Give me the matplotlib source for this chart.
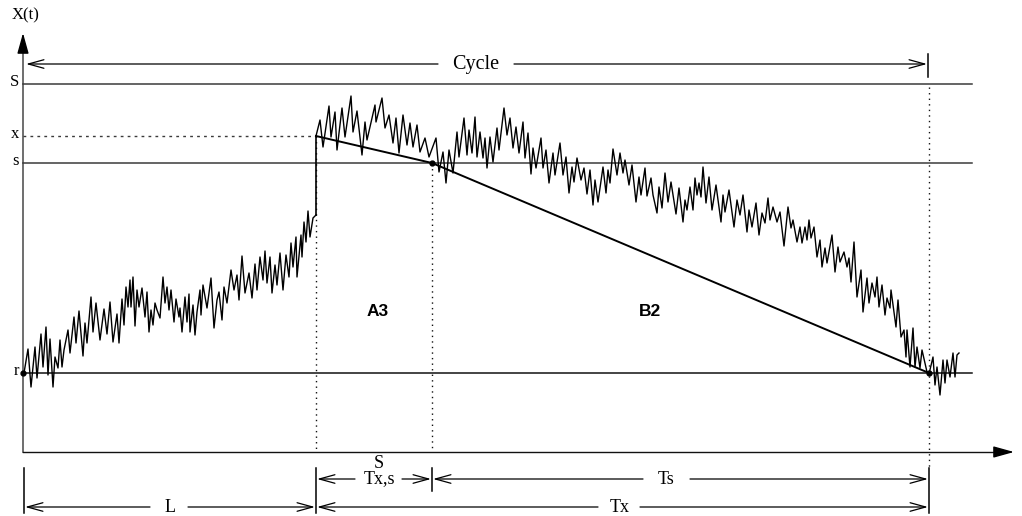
import matplotlib
matplotlib.use("Agg")
import matplotlib.pyplot as plt

plt.rcParams['font.family'] = ['Liberation Serif', 'DejaVu Serif']

# ---- levels (vertical positions, drawing units; larger = lower) ----
level_names = ["S", "x", "s", "r"]
level_S = 84
level_x = 136
level_s = 163
level_r = 373

# ---- key times ----
t_start = 23
t_L = 316          # end of L / jump time
t_s = 432          # time the threshold s is reached
t_cycle = 929      # end of cycle
t_end_lines = 972

# ---- noisy trajectory X(t), rising part ----
rise_t = [24, 28, 31, 35, 37, 41, 43, 46, 48, 50, 53, 55, 58, 60, 62, 64, 68, 70, 74, 76,
          79, 83, 85, 87, 91, 93, 96, 100, 104, 107, 110, 113, 117, 119, 122, 124, 126, 128, 130, 131,
          133, 135, 137, 139, 142, 145, 147, 149, 151, 153, 155, 157, 160, 163, 165, 167, 169, 171, 174, 176,
          179, 180, 182, 185, 187, 189, 190, 193, 195, 197, 200, 201, 203, 207, 211, 214, 217, 219, 222, 224,
          227, 231, 234, 237, 239, 242, 245, 249, 252, 255, 257, 260, 263, 265, 267, 270, 272, 275, 277, 280,
          283, 286, 289, 291, 293, 296, 297, 301, 302, 304, 306, 308, 310, 313, 316]
rise_x = [373, 349, 387, 347, 378, 334, 367, 327, 375, 339, 387, 357, 368, 340, 367, 350, 330, 353, 317, 343,
          311, 356, 323, 343, 297, 332, 303, 340, 309, 334, 302, 342, 314, 343, 299, 325, 287, 307, 280, 307,
          277, 326, 290, 307, 288, 317, 292, 332, 310, 325, 303, 310, 318, 277, 303, 287, 310, 290, 322, 299,
          317, 308, 332, 297, 322, 294, 332, 305, 335, 312, 290, 315, 285, 308, 278, 328, 300, 292, 320, 287,
          303, 270, 290, 275, 300, 256, 293, 273, 298, 264, 290, 257, 280, 251, 283, 257, 293, 265, 285, 253,
          290, 255, 277, 243, 267, 237, 277, 235, 257, 222, 242, 211, 237, 218, 215]

# ---- noisy trajectory after the jump ----
fall_t = [316, 320, 323, 329, 331, 335, 337, 342, 345, 351, 353, 357, 362, 365, 367, 375, 376, 382, 385, 389,
          393, 396, 399, 403, 407, 410, 413, 417, 420, 425, 429, 436, 439, 443, 446, 449, 453, 457, 459, 464,
          467, 469, 472, 475, 477, 480, 483, 485, 487, 490, 493, 497, 499, 504, 507, 510, 513, 516, 519, 523,
          525, 528, 531, 533, 536, 541, 543, 546, 549, 553, 555, 560, 563, 566, 569, 572, 574, 577, 581, 584,
          587, 590, 593, 595, 598, 603, 606, 608, 610, 613, 617, 620, 623, 625, 629, 632, 636, 639, 641, 645,
          647, 651, 653, 657, 659, 662, 665, 668, 671, 676, 679, 683, 685, 687, 690, 693, 695, 697, 699, 701,
          703, 706, 709, 712, 716, 721, 723, 725, 729, 734, 737, 740, 743, 747, 749, 752, 756, 759, 762, 765,
          768, 770, 773, 777, 780, 784, 788, 791, 793, 797, 800, 802, 805, 807, 809, 811, 814, 817, 820, 822,
          825, 827, 832, 835, 838, 840, 844, 847, 849, 851, 854, 857, 861, 863, 867, 869, 872, 875, 877, 879,
          882, 885, 887, 890, 891, 896, 898, 901, 904, 906, 907, 910, 913, 915, 917, 920, 922, 927, 929, 933,
          935, 937, 940, 943, 945, 947, 950, 953, 955, 957, 959]
fall_x = [136, 120, 147, 106, 137, 112, 150, 108, 137, 96, 132, 111, 155, 122, 140, 105, 122, 98, 128, 115,
          143, 118, 153, 115, 145, 123, 147, 125, 152, 138, 157, 138, 172, 152, 183, 150, 173, 132, 157, 118,
          155, 130, 153, 117, 157, 132, 158, 138, 168, 137, 162, 128, 150, 108, 135, 118, 148, 127, 153, 122,
          158, 133, 174, 148, 168, 138, 168, 150, 183, 153, 175, 143, 175, 157, 193, 167, 182, 158, 180, 168,
          194, 170, 205, 180, 202, 167, 193, 170, 183, 149, 175, 153, 173, 160, 185, 165, 202, 177, 195, 168,
          196, 178, 195, 213, 187, 208, 173, 202, 182, 214, 188, 222, 200, 210, 187, 210, 178, 195, 183, 197,
          167, 203, 177, 210, 185, 222, 195, 212, 190, 227, 200, 215, 195, 232, 210, 227, 203, 235, 213, 223,
          198, 220, 207, 222, 212, 246, 207, 228, 220, 242, 227, 243, 227, 240, 220, 238, 227, 257, 240, 267,
          248, 263, 235, 272, 247, 262, 252, 267, 258, 282, 242, 297, 270, 312, 278, 303, 283, 297, 277, 307,
          285, 315, 298, 308, 290, 327, 300, 337, 330, 357, 330, 367, 328, 367, 347, 368, 350, 372, 374, 357,
          385, 367, 395, 360, 383, 360, 377, 353, 377, 355, 353]

# ---- straight reference line through (t_L, x), (t_s, s), (t_cycle, r) ----
ref_t = [t_L, t_s, t_cycle]
ref_x = [level_x, level_s, level_r]

fig = plt.figure(figsize=(10.22, 5.16), dpi=100)
ax = fig.add_axes([0, 0, 1, 1])
ax.set_xlim(0, 1022)
ax.set_ylim(516, 0)
ax.axis('off')

ink = '#111111'
grey = '#3a3a3a'

# axes with arrows
axis_y = 452
ax.plot([t_start, t_start], [axis_y, 44], color='#555555', lw=1.2)
ax.annotate('', xy=(t_start, 33), xytext=(t_start, 46),
            arrowprops=dict(arrowstyle='-|>,head_length=0.9,head_width=0.25', color='black', lw=1,
                            shrinkA=0, shrinkB=0, mutation_scale=14))
ax.plot([t_start, 1003], [axis_y, axis_y], color=ink, lw=1.0)
ax.annotate('', xy=(1014, axis_y), xytext=(1000, axis_y),
            arrowprops=dict(arrowstyle='-|>,head_length=0.9,head_width=0.25', color='black', lw=1,
                            shrinkA=0, shrinkB=0, mutation_scale=14))
ax.text(26, 15, 'X(t)', fontsize=12, ha='center', va='center')

# horizontal level lines
ax.plot([t_start, t_end_lines], [level_S, level_S], color=grey, lw=1.1)
ax.plot([t_start, t_end_lines], [level_s, level_s], color=grey, lw=1.1)
ax.plot([t_start, t_end_lines], [level_r, level_r], color=ink, lw=1.1)
ax.plot([t_start, t_L], [level_x, level_x], color=grey, lw=1.0, ls=(0, (2, 3)))
for name, lv in zip(level_names, [level_S, level_x, level_s, level_r]):
    ax.text(19, lv - 2, name, fontsize=12, ha='right', va='center')

# vertical dotted lines
dot = (0, (1, 3))
ax.plot([t_L, t_L], [level_x, axis_y], color=ink, lw=1.0, ls=dot)
ax.plot([t_s, t_s], [level_s, axis_y], color=ink, lw=1.0, ls=dot)
ax.plot([t_cycle, t_cycle], [level_S + 3, 470], color=ink, lw=1.0, ls=dot)

# trajectory
ax.plot(rise_t, rise_x, color='black', lw=1.0)
ax.plot([t_L, t_L], [rise_x[-1], level_x], color='black', lw=1.2)
ax.plot(fall_t, fall_x, color='black', lw=1.0)

# reference line and points
ax.plot(ref_t, ref_x, color='black', lw=1.4)
ax.plot([t_start, t_s, t_cycle], [level_r, level_s, level_r], 'o', color='black', ms=3.5)

# region labels
ax.text(378, 312, 'A3', fontsize=12.5, fontweight='bold', ha='center', va='center',
        family=['Liberation Sans', 'DejaVu Sans'])
ax.text(650, 312, 'B2', fontsize=12.5, fontweight='bold', ha='center', va='center',
        family=['Liberation Sans', 'DejaVu Sans'])

arrow_kw = dict(arrowstyle='->,head_length=0.8,head_width=0.22', color='black', lw=0.9,
                shrinkA=0, shrinkB=0, mutation_scale=14)


def span(y, t0, t1, label, gap0, gap1, tx, fs=13):
    ax.annotate('', xy=(t0 + 1, y), xytext=(gap0, y), arrowprops=arrow_kw)
    ax.annotate('', xy=(t1 - 1, y), xytext=(gap1, y), arrowprops=arrow_kw)
    ax.text(tx, y, label, fontsize=fs, ha='center', va='center')


# Cycle span on top
span(64, t_start + 2, t_cycle - 1, 'Cycle', 438, 514, 476, fs=14.5)
ax.plot([t_cycle - 1, t_cycle - 1], [54, 77], color='black', lw=1.1)

# bottom spans
for tb, y0, y1 in [(t_start + 1, 468, 513), (t_L, 468, 513), (t_s, 468, 491), (t_cycle, 468, 513)]:
    ax.plot([tb, tb], [y0, y1], color='black', lw=1.1)

span(479, t_L, t_s, 'Tx,s', 355, 402, 379)
ax.text(379, 463, 'S', fontsize=13, ha='center', va='center')
span(479, t_s, t_cycle, 'Ts', 643, 690, 666)
span(507, t_start + 1, t_L, 'L', 150, 188, 170)
span(507, t_L, t_cycle, 'Tx', 598, 640, 620)

fig.savefig('out.png', dpi=100)
